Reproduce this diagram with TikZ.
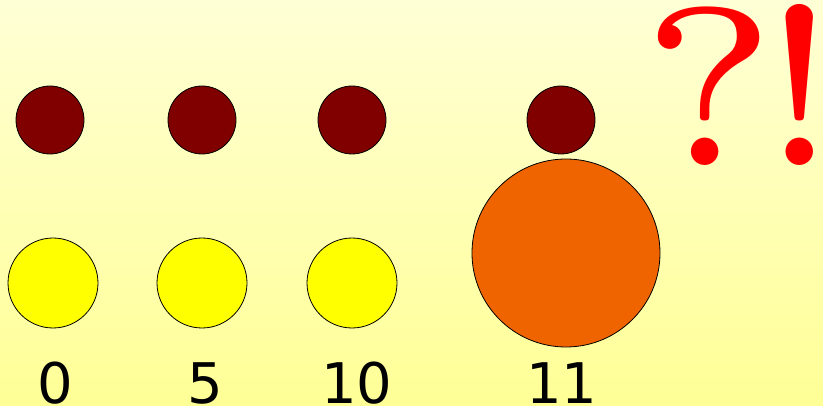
\documentclass[tikz,border=0pt]{standalone}
\usepackage{fontspec}
\newfontfamily\labelfont{DejaVu Sans}
\usetikzlibrary{math}
\definecolor{bgtop}{RGB}{255,255,214}
\definecolor{bgbottom}{RGB}{255,255,150}
\definecolor{darkdot}{RGB}{128,0,0}
\definecolor{brightyellow}{RGB}{255,255,0}
\definecolor{bigorange}{RGB}{240,100,0}
\definecolor{huhred}{RGB}{255,0,0}

\begin{document}
\begin{tikzpicture}[x=1pt,y=-1pt]
\tikzmath{
\ry=120;
\rr=34;
\yy=283;
\yr=45;
\lb=403;
}
%background
\shade[top color=bgtop, bottom color=bgbottom] (0,0) rectangle (823,406);
\useasboundingbox (0,0) rectangle (823,406);

%small dark circles
\filldraw[fill=darkdot, line width=0.8pt] (50,\ry) circle(\rr);
\filldraw[fill=darkdot, line width=0.8pt] (202,\ry) circle(\rr);
\filldraw[fill=darkdot, line width=0.8pt] (352,\ry) circle(\rr);
\filldraw[fill=darkdot, line width=0.8pt] (561,\ry) circle(\rr);

%yellow and orange circles
\filldraw[fill=brightyellow, line width=0.8pt] (53,\yy) circle(\yr);
\filldraw[fill=brightyellow, line width=0.8pt] (202,\yy) circle(\yr);
\filldraw[fill=brightyellow, line width=0.8pt] (352,\yy) circle(\yr);
\filldraw[fill=bigorange, line width=0.8pt] (566,253) circle(94);

%labels
\node[anchor=base, font=\labelfont\fontsize{56}{56}\selectfont, inner sep=0pt] (lzero) at (55,\lb) {0};
\node[anchor=base, font=\labelfont\fontsize{56}{56}\selectfont, inner sep=0pt] (lfive) at (205,\lb) {5};
\node[anchor=base, font=\labelfont\fontsize{56}{56}\selectfont, inner sep=0pt] (lten) at (357,\lb) {10};
\node[anchor=base, font=\labelfont\fontsize{56}{56}\selectfont, inner sep=0pt] (leleven) at (562,\lb) {11};

\node[anchor=base, text=huhred, font=\fontsize{5}{6}\selectfont, inner sep=0pt, scale=45] (huh) at (741,166) {?\kern-0.6pt!};
\end{tikzpicture}
\end{document}
